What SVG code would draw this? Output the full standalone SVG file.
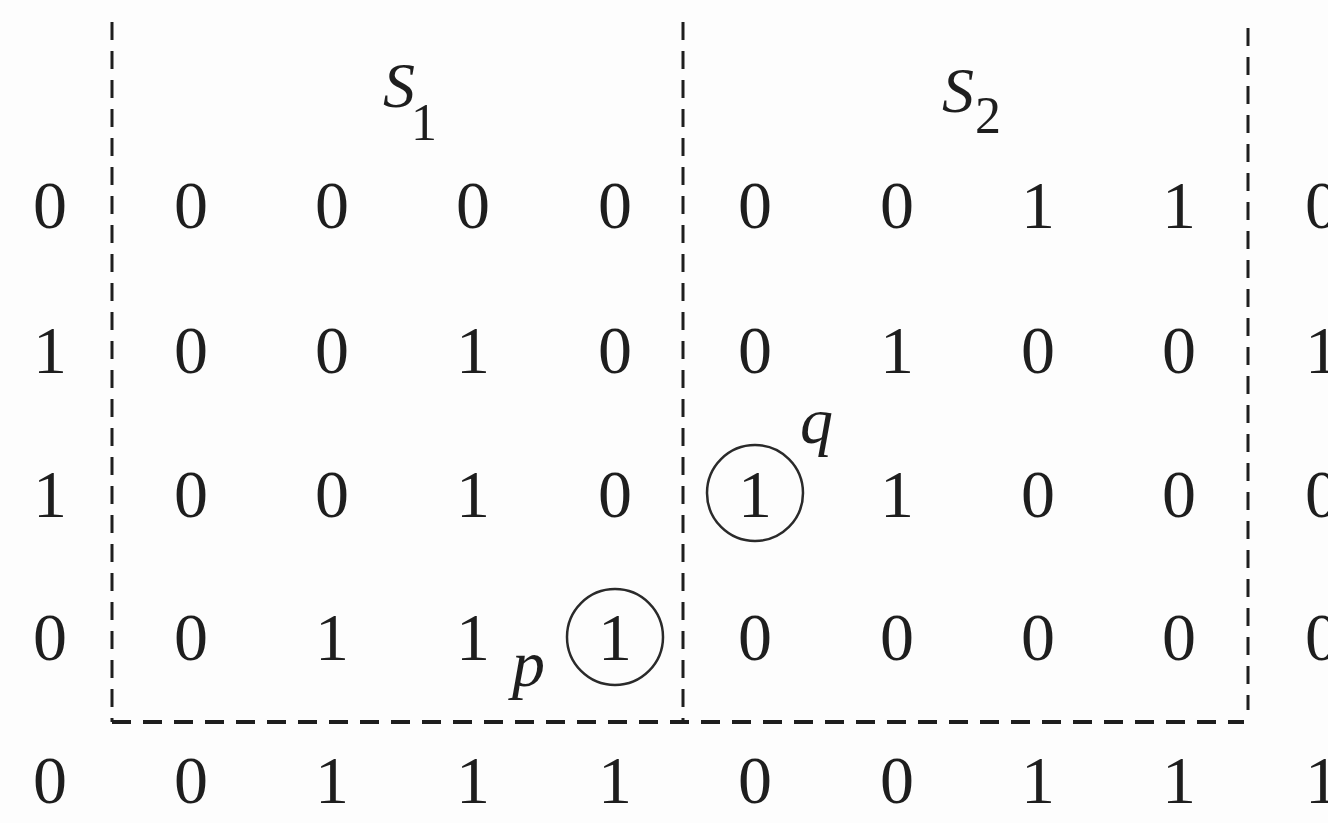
<svg xmlns="http://www.w3.org/2000/svg" width="1328" height="823" viewBox="0 0 1328 823">
<style>
.d{font-family:"Liberation Serif","Times New Roman",serif;font-size:68px;fill:#1e1e1e;text-anchor:middle}
.i{font-family:"Liberation Serif","Times New Roman",serif;font-style:italic;fill:#1e1e1e}
.v{stroke:#1e1e1e;stroke-width:3;stroke-dasharray:18 11;fill:none}
.h{stroke:#1e1e1e;stroke-width:4;stroke-dasharray:19 12;fill:none}
.c{stroke:#2a2a2a;stroke-width:2.5;fill:none}
</style>
<rect width="1328" height="823" fill="#fdfdfd"/>
<g id="borders">
<line class="v" x1="112" y1="22" x2="112" y2="722"/>
<line class="v" x1="683" y1="22" x2="683" y2="722"/>
<line class="v" x1="1248" y1="28" x2="1248" y2="710"/>
<line class="h" x1="112" y1="722" x2="1244" y2="722"/>
</g>
<g id="titles">
<text class="i" x="383" y="107" font-size="64">S</text><text class="d" x="424" y="140" font-size="52" style="font-size:52px">1</text>
<text class="i" x="942" y="112" font-size="64">S</text><text class="d" x="988" y="133" style="font-size:52px">2</text>
</g>
<g id="left-column">
<text class="d" x="50" y="228">0</text>
<text class="d" x="50" y="373">1</text>
<text class="d" x="50" y="517">1</text>
<text class="d" x="50" y="660">0</text>
<text class="d" x="50" y="803">0</text>
</g>
<g id="S1">
<text class="d" x="191" y="228">0</text><text class="d" x="332" y="228">0</text><text class="d" x="473" y="228">0</text><text class="d" x="615" y="228">0</text>
<text class="d" x="191" y="373">0</text><text class="d" x="332" y="373">0</text><text class="d" x="473" y="373">1</text><text class="d" x="615" y="373">0</text>
<text class="d" x="191" y="517">0</text><text class="d" x="332" y="517">0</text><text class="d" x="473" y="517">1</text><text class="d" x="615" y="517">0</text>
<text class="d" x="191" y="660">0</text><text class="d" x="332" y="660">1</text><text class="d" x="473" y="660">1</text><text class="d" x="615" y="660">1</text>
</g>
<g id="S2">
<text class="d" x="755" y="228">0</text><text class="d" x="897" y="228">0</text><text class="d" x="1038" y="228">1</text><text class="d" x="1179" y="228">1</text>
<text class="d" x="755" y="373">0</text><text class="d" x="897" y="373">1</text><text class="d" x="1038" y="373">0</text><text class="d" x="1179" y="373">0</text>
<text class="d" x="755" y="517">1</text><text class="d" x="897" y="517">1</text><text class="d" x="1038" y="517">0</text><text class="d" x="1179" y="517">0</text>
<text class="d" x="755" y="660">0</text><text class="d" x="897" y="660">0</text><text class="d" x="1038" y="660">0</text><text class="d" x="1179" y="660">0</text>
</g>
<g id="right-column">
<text class="d" x="1322" y="228">0</text>
<text class="d" x="1322" y="373">1</text>
<text class="d" x="1322" y="517">0</text>
<text class="d" x="1322" y="660">0</text>
</g>
<g id="bottom-row">
<text class="d" x="191" y="803">0</text><text class="d" x="332" y="803">1</text><text class="d" x="473" y="803">1</text><text class="d" x="615" y="803">1</text>
<text class="d" x="755" y="803">0</text><text class="d" x="897" y="803">0</text><text class="d" x="1038" y="803">1</text><text class="d" x="1179" y="803">1</text><text class="d" x="1322" y="803">1</text>
</g>
<g id="p">
<circle class="c" cx="615" cy="637" r="48"/>
<text class="i" x="512" y="686" font-size="66">p</text>
</g>
<g id="q">
<circle class="c" cx="755" cy="493" r="48"/>
<text class="i" x="800" y="443" font-size="66">q</text>
</g>
</svg>
